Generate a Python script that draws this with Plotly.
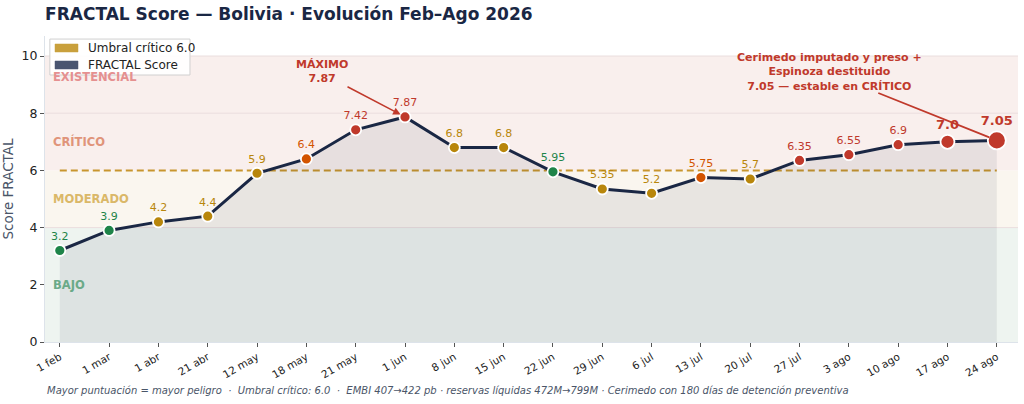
import plotly.graph_objects as go

# Datos
fechas = ["1 feb", "1 mar", "1 abr", "21 abr", "12 may", "18 may", "21 may", "1 jun",
          "8 jun", "15 jun", "22 jun", "29 jun", "6 jul", "13 jul", "20 jul", "27 jul",
          "3 ago", "10 ago", "17 ago", "24 ago"]
scores = [3.2, 3.9, 4.2, 4.4, 5.9, 6.4, 7.42, 7.87, 6.8, 6.8, 5.95, 5.35, 5.2, 5.75,
          5.7, 6.35, 6.55, 6.9, 7.0, 7.05]
umbral = 6.0
zonas = [("BAJO", 0, 4), ("MODERADO", 4, 6), ("CRÍTICO", 6, 8), ("EXISTENCIAL", 8, 10)]
leyenda = ["Umbral crítico 6.0", "FRACTAL Score"]

# estilos
GREEN, GOLD, ORANGE, RED = "#1e8449", "#b8860b", "#d35400", "#c0392b"
NAVY = "#1a2744"
point_colors = [GREEN, GREEN, GOLD, GOLD, GOLD, ORANGE, RED, RED, GOLD, GOLD, GREEN,
                GOLD, GOLD, ORANGE, GOLD, RED, RED, RED, RED, RED]
zone_fill = {"BAJO": "#eef4f0", "MODERADO": "#faf6ef", "CRÍTICO": "#f9efed", "EXISTENCIAL": "#f9efed"}
zone_text = {"BAJO": "#6aaa88", "MODERADO": "#dab868", "CRÍTICO": "#e0947a", "EXISTENCIAL": "#e59090"}
legend_colors = ["#c9a03c", "#4a5570"]

sizes = [11] * len(scores)
sizes[-2] = 14
sizes[-1] = 18
label_sizes = [11] * len(scores)
label_sizes[-2] = 13
label_sizes[-1] = 13
labels = [str(v) for v in scores]
labels[-2] = "<b>%s</b>" % labels[-2]
labels[-1] = "<b>%s</b>" % labels[-1]

fig = go.Figure()

# bandas de riesgo
for name, lo, hi in zonas:
    fig.add_shape(type="rect", xref="paper", x0=0, x1=1, y0=lo, y1=hi,
                  fillcolor=zone_fill[name], line_width=0, layer="below")
    fig.add_annotation(xref="paper", x=0.006, y=(lo + hi) / 2 + (0.25 if hi == 10 else 0),
                       text="<b>%s</b>" % name, showarrow=False, xanchor="left",
                       font=dict(size=11.5, color=zone_text[name]))
for yv in [4, 8, 10]:
    fig.add_shape(type="line", xref="paper", x0=0, x1=1, y0=yv, y1=yv,
                  line=dict(color="#eadede", width=1), layer="below")

# área bajo la curva
fig.add_trace(go.Scatter(
    x=fechas, y=scores, mode="none",
    fill="tozeroy", fillcolor="rgba(26,39,68,0.08)",
    showlegend=False, hoverinfo="skip",
))
fig.add_trace(go.Scatter(
    x=fechas, y=scores, mode="lines+markers+text",
    line=dict(color=NAVY, width=3),
    marker=dict(color=point_colors, size=sizes, opacity=1, line=dict(color="white", width=1.8)),
    text=labels, textposition="top center",
    textfont=dict(color=point_colors, size=label_sizes),
    showlegend=False, cliponaxis=False,
))

# línea de umbral
fig.add_shape(type="line", xref="x", x0=0, x1=len(fechas) - 1, y0=umbral, y1=umbral,
              line=dict(color="#c8962e", width=2, dash="7px,4px"), layer="below")

# leyenda dibujada a mano (parches rectangulares)
fig.add_shape(type="rect", xref="paper", yref="paper", x0=0.005, x1=0.149, y0=0.8725, y1=0.99,
              fillcolor="rgba(255,255,255,0.9)", line=dict(color="#d0d0d0", width=1))
for i, (name, col) in enumerate(zip(leyenda, legend_colors)):
    yc = 0.9608 - i * 0.0556
    fig.add_shape(type="rect", xref="paper", yref="paper", x0=0.0103, x1=0.0339,
                  y0=yc - 0.0131, y1=yc + 0.0131, fillcolor=col, line=dict(color=col, width=0.5))
    fig.add_annotation(xref="paper", yref="paper", x=0.0421, y=yc, text=name, showarrow=False,
                       xanchor="left", yanchor="middle", font=dict(size=12, color="#222"))

# anotaciones
imax = scores.index(max(scores))
fig.add_annotation(x=imax, y=scores[imax], text="", showarrow=True, ax=-59, ay=-31,
                   arrowhead=2, arrowsize=1, arrowwidth=1.5, arrowcolor=RED, standoff=5)
fig.add_annotation(x=5.31, y=9.47, text="<b>MÁXIMO<br>%s</b>" % max(scores), showarrow=False,
                   font=dict(size=11, color=RED))
fig.add_annotation(x=len(fechas) - 1, y=scores[-1], text="", showarrow=True, ax=-120, ay=-48,
                   arrowhead=0, arrowwidth=1.8, arrowcolor=RED, standoff=8)
fig.add_annotation(x=15.6, y=9.44,
                   text="<b>Cerimedo imputado y preso +<br>Espinoza destituido<br>7.05 — estable en CRÍTICO</b>",
                   showarrow=False, font=dict(size=11, color=RED))

fig.add_annotation(xref="paper", yref="paper", x=0, y=-0.16, xanchor="left", yanchor="middle",
                   text="<i>Mayor puntuación = mayor peligro  ·  Umbral crítico: 6.0  ·  EMBI 407→422 pb · "
                        "reservas líquidas 472M→799M · Cerimedo con 180 días de detención preventiva</i>",
                   showarrow=False, font=dict(size=10, color="#4a5568"))

fig.update_layout(
    width=1024, height=404,
    margin=dict(l=45, r=6, t=36, b=62),
    paper_bgcolor="white", plot_bgcolor="white",
    font=dict(family="DejaVu Sans", color="#222"),
    showlegend=False,
    title=dict(text="<b>FRACTAL Score — Bolivia · Evolución Feb–Ago 2026</b>",
               x=0.044, xanchor="left", y=0.965, yanchor="middle",
               font=dict(size=17, color=NAVY)),
)
fig.update_xaxes(type="category", range=[-0.3, 19.43], showgrid=False, tickangle=-30,
                 ticks="outside", ticklen=4, tickcolor="#555", tickfont=dict(size=10.5),
                 showline=True, linecolor="#dde3ea", zeroline=False, automargin=False)
fig.update_yaxes(range=[0, 10.7], tickvals=[0, 2, 4, 6, 8, 10], showgrid=False,
                 ticks="outside", ticklen=4, tickcolor="#555", tickfont=dict(size=12.5),
                 showline=True, linecolor="#dde3ea", zeroline=False, automargin=False,
                 title=dict(text="Score FRACTAL", font=dict(size=13.5, color="#4a5568"), standoff=10))

fig.write_html("out.html", config={"displayModeBar": False},
               post_script="document.body.style.margin='0';")
